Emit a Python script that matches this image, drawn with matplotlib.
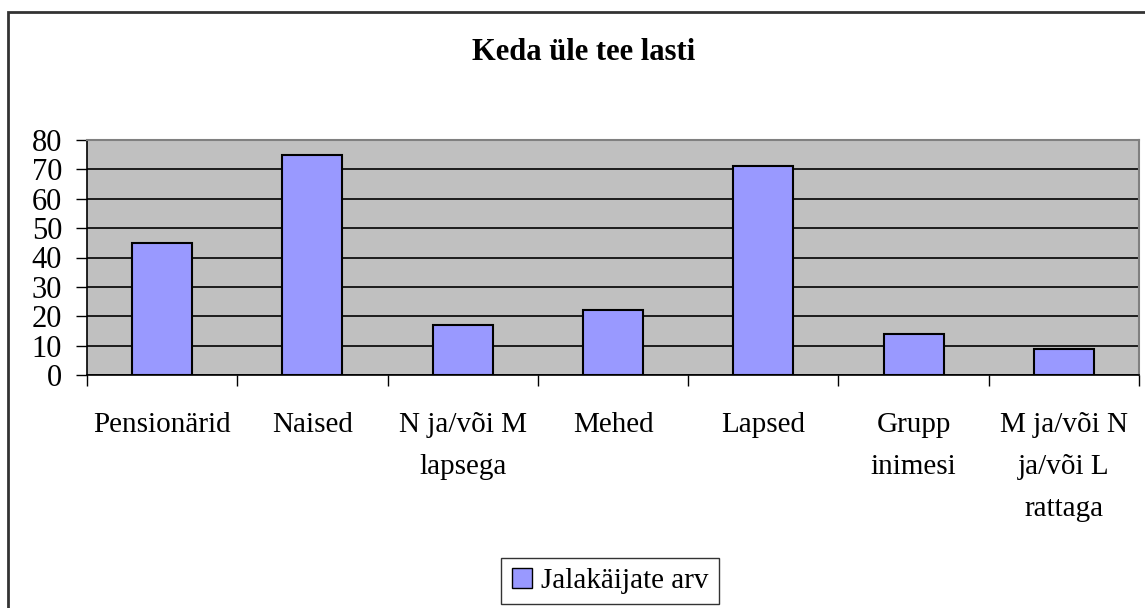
import numpy as np
import matplotlib
matplotlib.use('Agg')
import matplotlib.pyplot as plt
from matplotlib.patches import Rectangle, Patch

# Andmed
kategooriad = ['Pensionärid', 'Naised', 'N ja/või M\nlapsega', 'Mehed',
               'Lapsed', 'Grupp\ninimesi', 'M ja/või N\nja/või L\nrattaga']
vaartused = [45, 75, 17, 22, 71, 14, 9]
y_ticks = [0, 10, 20, 30, 40, 50, 60, 70, 80]
seeria = 'Jalakäijate arv'

plt.rcParams['font.family'] = ['Liberation Serif', 'DejaVu Serif']

fig = plt.figure(figsize=(11.45, 6.08), dpi=100)
ax = fig.add_axes([87 / 1145, 1 - 375 / 608, (1139 - 87) / 1145, (375 - 140) / 608])

x = np.arange(len(kategooriad))
ax.bar(x, vaartused, width=0.4, color='#9999FF', edgecolor='black', linewidth=1.5, zorder=3)

ax.set_facecolor('#C0C0C0')
ax.set_xlim(-0.5, len(kategooriad) - 0.5)
ax.set_ylim(0, 80)
ax.set_yticks(y_ticks)
ax.yaxis.grid(True, color='black', linewidth=1.2)
ax.set_axisbelow(True)

# tiksud kategooriate piiridel
ax.set_xticks(x)
ax.set_xticklabels(kategooriad, fontsize=21, linespacing=1.8, va='top')
ax.set_xticks(np.arange(len(kategooriad) + 1) - 0.5, minor=True)
ax.tick_params(axis='x', which='major', length=0, pad=27)
ax.tick_params(axis='x', which='minor', length=8, width=1, color='black', direction='out')
ax.tick_params(axis='y', length=8, width=1, pad=10, labelsize=22, direction='out')

for s in ['top', 'right']:
    ax.spines[s].set_color('#808080')
    ax.spines[s].set_linewidth(1.5)
for s in ['left', 'bottom']:
    ax.spines[s].set_color('black')
    ax.spines[s].set_linewidth(1.2)

fig.text(584 / 1145, 1 - 53 / 608, 'Keda üle tee lasti', ha='center', va='center',
         fontsize=22, fontweight='bold')

leg = fig.legend(handles=[Patch(facecolor='#9999FF', edgecolor='black', label=seeria)],
                 loc='center', bbox_to_anchor=(610 / 1145, 1 - 581 / 608),
                 fontsize=21, frameon=True, fancybox=False, edgecolor='black',
                 handlelength=0.7, handleheight=0.7, handletextpad=0.3, borderpad=0.35)
leg.get_frame().set_linewidth(1)

# diagrammi välisraam
fig.patches.append(Rectangle((8 / 1145, -0.05), 1.1, 1 - 12 / 608 + 0.05,
                             transform=fig.transFigure, fill=False,
                             edgecolor='#333333', linewidth=2))

fig.savefig('out.png', dpi=100)
